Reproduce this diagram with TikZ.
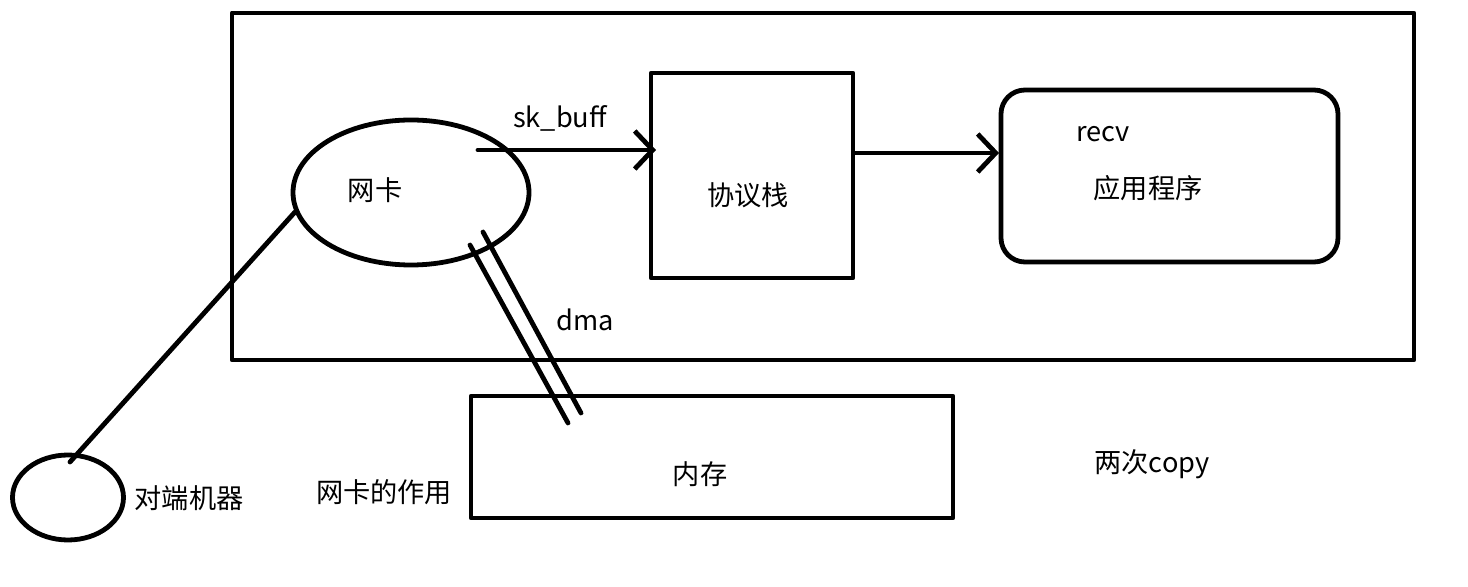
\documentclass[tikz,border=0pt]{standalone}
\usepackage{fontspec}
\setmainfont{Noto Sans CJK SC}
\usetikzlibrary{arrows.meta,shapes.geometric}
\begin{document}
\begin{tikzpicture}[x=0.5pt,y=-0.5pt,
  ln/.style={line width=2.4pt,line cap=round,line join=round},
  lbl/.style={font=\fontsize{13.6pt}{15pt}\selectfont,inner sep=0pt},
  arr/.style={ln,-{Straight Barb[length=9pt,width=19pt,line width=2.4pt]}}]
\useasboundingbox (0,0) rectangle (1468,587);
\node[ln,draw,minimum width=591pt,minimum height=173.5pt,inner sep=0pt] (outer) at (823,186.5) {};
\node[ln,draw,ellipse,minimum width=118pt,minimum height=72.5pt,inner sep=0pt] (nic) at (411,192.5) {};
\node[lbl] (nict) at (375,190) {网卡};
\node[ln,draw,minimum width=101pt,minimum height=102.5pt,inner sep=0pt] (stack) at (752,175.5) {};
\node[lbl] (stackt) at (748,195) {协议栈};
\node[ln,draw,rounded corners=12pt,minimum width=168.5pt,minimum height=86pt,inner sep=0pt] (app) at (1169.5,176) {};
\node[lbl] (recv) at (1103,134) {recv};
\node[lbl] (appt) at (1148,188) {应用程序};
\node[ln,draw,minimum width=241pt,minimum height=61pt,inner sep=0pt] (mem) at (712,457) {};
\node[lbl] (memt) at (700,474) {内存};
\node[ln,draw,ellipse,minimum width=55.5pt,minimum height=42.5pt,inner sep=0pt] (peer) at (68,497.5) {};
\node[lbl] (peert) at (189,498) {对端机器};
\node[lbl] (role) at (384,492) {网卡的作用};
\node[lbl] (copy) at (1152,464) {两次copy};
\node[lbl] (skb) at (560,118) {sk\_buff};
\node[lbl] (dma) at (585,320) {dma};
\coordinate (a1) at (478,150);
\coordinate (a2) at (656,150);
\draw[arr] (a1) -- (a2);
\coordinate (b1) at (854,153);
\coordinate (b2) at (999,153);
\draw[arr] (b1) -- (b2);
\coordinate (d1) at (470,245);
\coordinate (d2) at (568,423);
\coordinate (e1) at (483,232);
\coordinate (e2) at (581,413);
\draw[ln] (d1) -- (d2);
\draw[ln] (e1) -- (e2);
\coordinate (p1) at (295,212);
\coordinate (p2) at (70,462);
\draw[ln] (p1) -- (p2);
\end{tikzpicture}
\end{document}
